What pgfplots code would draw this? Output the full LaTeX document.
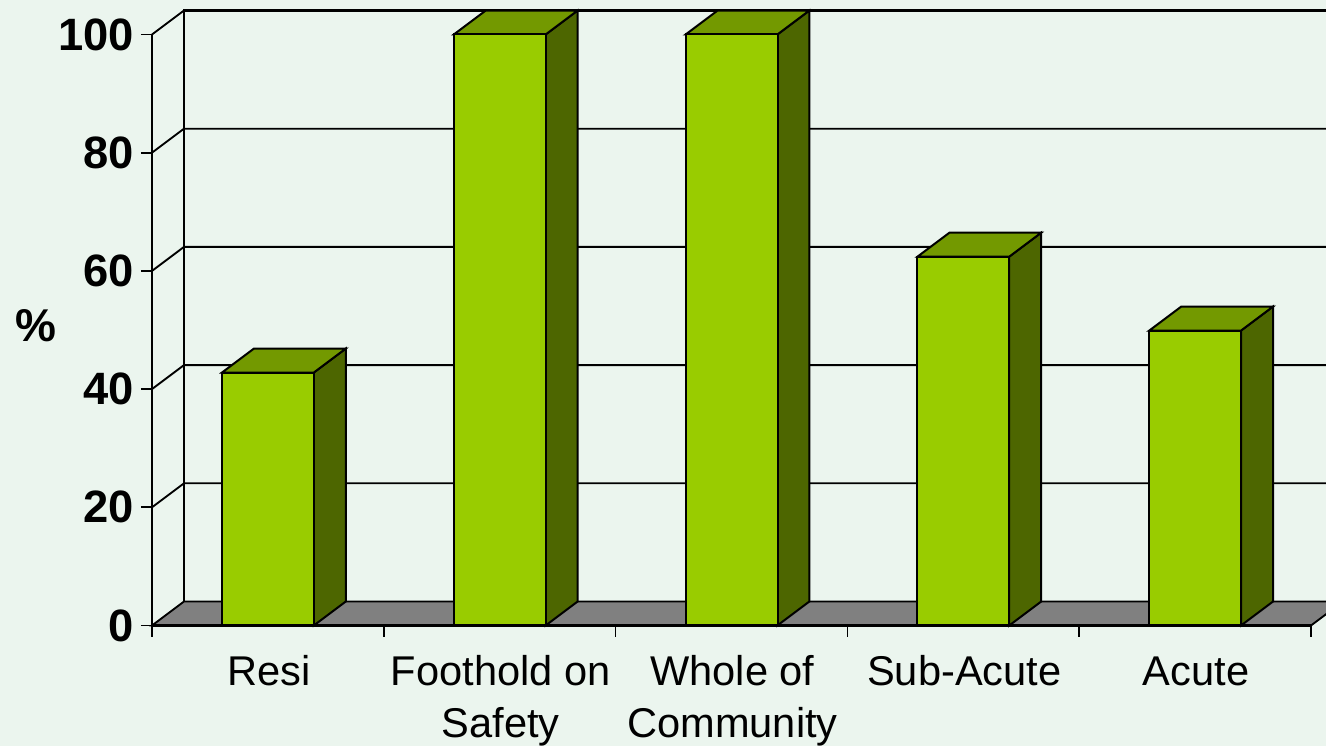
\documentclass[border=0pt]{standalone}
\usepackage{pgfplots}
\pgfplotsset{compat=1.18}
\usepackage{fontspec}
\setmainfont{Liberation Sans}
\definecolor{bgc}{HTML}{EBF5EE}
\definecolor{barf}{HTML}{99CC00}
\definecolor{bart}{HTML}{739900}
\definecolor{bars}{HTML}{4D6600}
\definecolor{floorc}{HTML}{808080}
\begin{document}
\begin{tikzpicture}
\fill[bgc,use as bounding box] (-114pt,-90.375pt) rectangle (880.5pt,469.125pt);
\begin{axis}[
  at={(0,0)},anchor=south west,
  scale only axis,
  width=869.25pt,height=443.25pt,
  xmin=-0.5,xmax=4.5,ymin=0,ymax=100,
  clip=false,
  axis x line=bottom,axis y line=left,
  axis line style={-,line width=1.6pt},
  tick align=outside,
  major tick length=8.25pt,minor tick length=8.25pt,
  tick style={black,line width=1.3pt},
  xtick={0,1,2,3,4},
  minor xtick={-0.5,0.5,1.5,2.5,3.5,4.5},
  major x tick style={draw=none},
  xticklabels={\vphantom{Fd}Resi,{\vphantom{Fd}Foothold on\\Safety},{\vphantom{Fd}Whole of\\Community},\vphantom{Fd}Sub-Acute,\vphantom{Fd}Acute},
  xticklabel style={align=center,inner sep=0pt,yshift=-14pt,xshift=0.75pt,font=\fontsize{31.2}{39}\selectfont},
  ytick={0,20,40,60,80,100},
  yticklabel style={inner sep=0pt,xshift=-5pt,font=\fontsize{34}{36}\selectfont\bfseries},
  /pgf/number format/assume math mode=true,
  ylabel={\%},
  every axis y label/.style={at={(axis description cs:-0.1,0.508)},anchor=center,font=\fontsize{34.5}{36}\selectfont\bfseries},
]
% back wall grid
\addplot[black,line width=1.6pt] coordinates {(-0.362,4.06) (-0.362,104.06) (4.638,104.06)};
\addplot[black,line width=1.4pt] coordinates {(-0.5,100) (-0.362,104.06)};
\addplot[black,line width=1.4pt] coordinates {(-0.5,80) (-0.362,84.06) (4.638,84.06)};
\addplot[black,line width=1.4pt] coordinates {(-0.5,60) (-0.362,64.06) (4.638,64.06)};
\addplot[black,line width=1.4pt] coordinates {(-0.5,40) (-0.362,44.06) (4.638,44.06)};
\addplot[black,line width=1.4pt] coordinates {(-0.5,20) (-0.362,24.06) (4.638,24.06)};
% floor
\addplot[draw=black,fill=floorc,line width=1.4pt] coordinates {(-0.5,0) (4.5,0) (4.638,4.06) (-0.362,4.06)} -- cycle;
% side faces
\addplot[draw=black,fill=bars,line width=1.5pt] coordinates {(0.198,0) (0.336,4.06) (0.336,46.86) (0.198,42.8)} -- cycle;
\addplot[draw=black,fill=bars,line width=1.5pt] coordinates {(1.198,0) (1.336,4.06) (1.336,104.06) (1.198,100)} -- cycle;
\addplot[draw=black,fill=bars,line width=1.5pt] coordinates {(2.198,0) (2.336,4.06) (2.336,104.06) (2.198,100)} -- cycle;
\addplot[draw=black,fill=bars,line width=1.5pt] coordinates {(3.198,0) (3.336,4.06) (3.336,66.46) (3.198,62.4)} -- cycle;
\addplot[draw=black,fill=bars,line width=1.5pt] coordinates {(4.198,0) (4.336,4.06) (4.336,53.96) (4.198,49.9)} -- cycle;
% top faces
\addplot[draw=black,fill=bart,line width=1.5pt] coordinates {(-0.198,42.8) (0.198,42.8) (0.336,46.86) (-0.06,46.86)} -- cycle;
\addplot[draw=black,fill=bart,line width=1.5pt] coordinates {(0.802,100) (1.198,100) (1.336,104.06) (0.94,104.06)} -- cycle;
\addplot[draw=black,fill=bart,line width=1.5pt] coordinates {(1.802,100) (2.198,100) (2.336,104.06) (1.94,104.06)} -- cycle;
\addplot[draw=black,fill=bart,line width=1.5pt] coordinates {(2.802,62.4) (3.198,62.4) (3.336,66.46) (2.94,66.46)} -- cycle;
\addplot[draw=black,fill=bart,line width=1.5pt] coordinates {(3.802,49.9) (4.198,49.9) (4.336,53.96) (3.94,53.96)} -- cycle;
% front faces
\addplot[ybar,bar width=69pt,draw=black,fill=barf,line width=1.5pt] coordinates {(0,42.8) (1,100) (2,100) (3,62.4) (4,49.9)};
% front floor edge
\addplot[black,line width=1.6pt] coordinates {(-0.5,0) (4.5,0)};
\end{axis}
\end{tikzpicture}
\end{document}
